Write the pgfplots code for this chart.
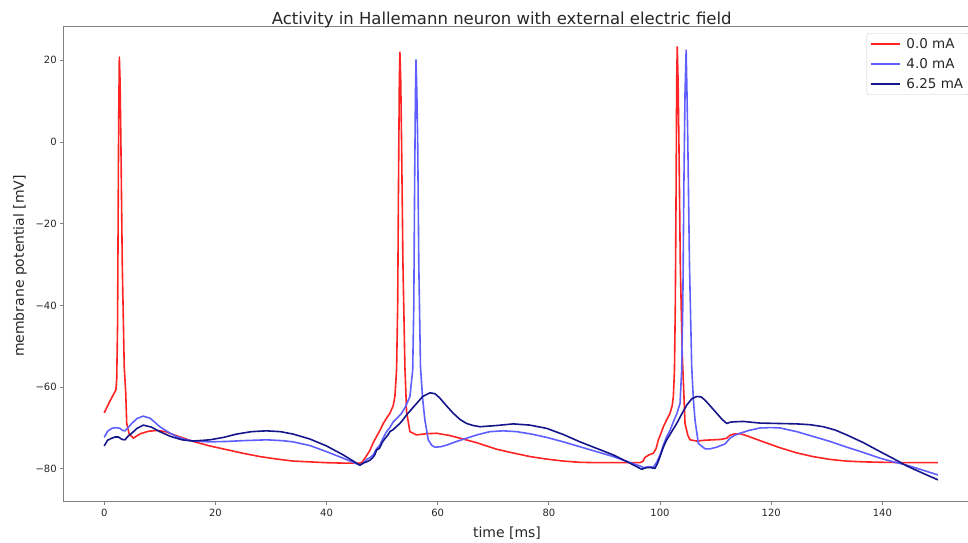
\documentclass[border=0pt]{standalone}
\usepackage{fontspec}
\setmainfont{DejaVu Sans}
\usepackage{pgfplots}
\pgfplotsset{compat=1.18}
\definecolor{cred}{RGB}{255,35,35}
\definecolor{cblue}{RGB}{95,95,255}
\definecolor{cnavy}{RGB}{22,22,140}
\definecolor{ctext}{RGB}{38,38,38}
\definecolor{cspine}{RGB}{128,128,128}
\begin{document}
\begin{tikzpicture}
\useasboundingbox (-63.7pt,-40.3pt) rectangle (904.3pt,501.7pt);
\clip (-63.7pt,-40.3pt) rectangle (904.3pt,501.7pt);
\begin{axis}[
  scale only axis,
  width=915.9pt, height=475pt,
  xmin=-7.29, xmax=157.5, ymin=-88.05, ymax=28.23,
  axis line style={cspine, line width=0.9pt},
  xtick={0,20,...,140},
  ytick={-80,-60,-40,-20,0,20},
  yticklabels={−80,−60,−40,−20,0,20},
  tick align=outside, tick pos=left,
  major tick length=3.5pt,
  every tick/.style={cspine, line width=0.8pt},
  /pgf/number format/assume math mode=true,
  tick label style={font=\fontsize{10}{12}\selectfont, text=ctext},
  legend style={at={(0.8767,0.9867)}, anchor=north west, draw=black!20, rounded corners=2pt,
    font=\fontsize{13.5}{15}\selectfont, text=ctext, inner xsep=3pt, inner ysep=3pt,
    row sep=4.5pt},
  legend cell align=left,
  legend image code/.code={\draw[#1] (0pt,0pt) -- (29pt,0pt); \path (33pt,0pt);},
  every axis plot/.append style={line width=1.6pt, line join=round},
]
% 0.0 mA
\addplot[cred] coordinates {
(0,-66.3) (1.0,-63.5) (2.1,-60.7) (2.25,-58) (2.4,-45) (2.5,-20) (2.6,5) (2.72,20.8)
(2.85,15) (3.0,0) (3.25,-30) (3.6,-55) (3.87,-61.3) (4.05,-68.9) (4.5,-71.5) (5.24,-72.5)
(6.5,-71.4) (8.0,-70.8) (9.5,-70.6) (11,-70.9) (13,-71.9) (16.0,-73.3) (19,-74.4) (22.0,-75.3)
(25,-76.2) (28.0,-77.0) (31,-77.6) (34.0,-78.1) (37,-78.3) (40.0,-78.5) (43,-78.6) (46.0,-78.6)
(46.4,-78.4) (47.1,-77.0) (47.8,-75.5) (48.4,-73.6) (49.0,-72.1) (49.6,-70.6) (50.2,-68.9) (50.8,-67.6)
(51.4,-66.4) (52.0,-64.5) (52.3,-62.3) (52.6,-55.8) (52.8,-40) (52.95,-10) (53.1,15) (53.2,22.0)
(53.35,15) (53.5,0) (53.75,-30) (54.1,-55) (54.4,-66) (55.0,-70.9) (56.2,-71.7) (58,-71.4)
(59.8,-71.3) (62,-71.8) (64.0,-72.5) (67,-73.6) (70.6,-75.2) (73.5,-76.1) (76.6,-77.0) (79.5,-77.6)
(82.6,-78.1) (85.5,-78.4) (88.6,-78.5) (92,-78.5) (96.4,-78.5) (96.9,-78.2) (97.3,-77.2) (98.0,-76.6)
(98.8,-76.2) (99.3,-75.0) (99.7,-72.9) (100.2,-71.2) (100.6,-69.7) (101.2,-68.0) (101.8,-66.4) (102.2,-64.5)
(102.4,-62.3) (102.6,-55.8) (102.75,-40) (102.9,-10) (103.0,15) (103.1,23.3) (103.25,15) (103.4,0)
(103.65,-30) (104.0,-52) (104.3,-62) (104.5,-68.9) (105.0,-71.8) (105.4,-72.9) (106.6,-73.2) (108,-73.0)
(109.6,-72.9) (111,-72.8) (112.0,-72.5) (112.6,-71.8) (113.2,-71.5) (114.4,-71.4) (115.6,-71.9) (117,-72.6)
(118.6,-73.4) (121.5,-74.8) (124.6,-76.1) (127.5,-77.0) (130.6,-77.7) (133.5,-78.1) (136.6,-78.3) (140,-78.4)
(145,-78.5) (150,-78.5)
};
\addlegendentry{0.0 mA}
% 4.0 mA
\addplot[cblue] coordinates {
(0,-72.3) (0.6,-70.8) (1.35,-70.1) (2.1,-69.9) (2.84,-70.1) (3.3,-70.6) (3.74,-70.7) (4.3,-69.9)
(4.95,-68.9) (5.9,-67.7) (7.0,-67.1) (8.24,-67.6) (9.1,-68.6) (10.0,-69.7) (11.5,-71.0) (13.0,-72.1)
(14.5,-72.8) (16.0,-73.2) (19.0,-73.4) (22,-73.3) (25.0,-73.1) (29.2,-72.9) (32,-73.1) (34.0,-73.4)
(37,-74.3) (40.0,-75.8) (43,-77.4) (46.0,-79.1) (46.6,-78.6) (47.3,-77.6) (47.8,-77.3) (48.4,-76.6)
(49.0,-75.1) (49.6,-74.2) (50.2,-72.4) (50.8,-70.9) (51.4,-69.9) (52.0,-68.5) (52.7,-67.6) (53.5,-66.4)
(54.2,-64.8) (55.0,-62.3) (55.5,-55.8) (55.7,-40) (55.85,-10) (56.0,12) (56.1,20.1) (56.25,12)
(56.4,0) (56.6,-30) (56.9,-55) (57.3,-63) (57.7,-68.1) (58.3,-72.9) (58.9,-74.2) (59.5,-74.7)
(60.5,-74.6) (61.6,-74.2) (63.4,-73.3) (65.2,-72.5) (67.3,-71.6) (69.4,-70.9) (71.8,-70.7) (74.2,-70.9)
(76.9,-71.5) (79.6,-72.3) (82.6,-73.4) (85.6,-74.6) (88.6,-75.8) (91.6,-77.0) (94,-78.2) (96.4,-79.3)
(97.0,-79.7) (98.0,-79.5) (98.8,-79.6) (99.4,-78.4) (100.0,-76.6) (100.6,-74.2) (101.2,-72.1) (101.8,-70.6)
(102.4,-68.5) (103.0,-66.6) (103.6,-64.0) (103.9,-55.8) (104.1,-40) (104.3,-10) (104.5,12) (104.7,22.5)
(104.85,12) (105.0,0) (105.3,-30) (105.7,-55) (106.0,-63) (106.3,-68.1) (106.9,-73.8) (108.1,-75.1)
(109.0,-75.1) (110.2,-74.7) (111.7,-73.9) (112.6,-72.5) (113.4,-71.8) (114.4,-71.3) (116,-70.6) (118.0,-70.0)
(120,-69.9) (121.6,-70.0) (124.6,-70.9) (127.6,-72.1) (130.6,-73.3) (133.6,-74.7) (136.6,-76.0) (139.6,-77.4)
(142,-78.3) (144.4,-79.1) (147,-80.2) (150,-81.5)
};
\addlegendentry{4.0 mA}
% 6.25 mA
\addplot[cnavy] coordinates {
(0,-74.4) (0.6,-73.0) (1.35,-72.5) (2.0,-72.2) (2.54,-72.2) (3.2,-72.8) (3.74,-72.9) (4.3,-72.0)
(4.95,-71.3) (5.9,-70.1) (7.03,-69.3) (8.5,-69.8) (10.0,-70.9) (12,-72.1) (14,-72.9) (16.0,-73.2)
(19.0,-72.9) (21.5,-72.3) (23.8,-71.5) (26.5,-70.9) (29.2,-70.7) (31.7,-70.9) (34.0,-71.5) (37,-72.7)
(40.0,-74.4) (43,-76.6) (46.0,-79.1) (46.6,-78.6) (47.2,-78.3) (47.8,-77.9) (48.3,-77.3) (48.7,-76.5)
(49.0,-75.4) (49.5,-75.0) (50.0,-73.6) (50.5,-72.6) (51.0,-71.8) (51.4,-70.9) (52.0,-70.4) (52.6,-69.6)
(53.2,-68.9) (53.8,-67.9) (54.4,-66.8) (55.3,-65.4) (56.2,-64.0) (57.3,-62.3) (58.6,-61.4) (59.5,-61.6)
(60.4,-62.7) (61.6,-64.6) (62.8,-66.4) (64.0,-67.9) (65.2,-68.9) (66.4,-69.4) (67.6,-69.7) (70.6,-69.4)
(73.6,-69.0) (76.6,-69.3) (79.6,-70.1) (82.6,-71.6) (85.6,-73.4) (88.6,-75.0) (91.6,-76.6) (94,-78.2)
(96.4,-79.9) (96.7,-80.1) (97.6,-79.7) (98.3,-79.7) (99.1,-79.9) (99.6,-78.5) (100.0,-77.0) (100.6,-74.7)
(101.2,-72.9) (102.1,-70.9) (103.0,-68.9) (103.9,-66.6) (104.8,-64.4) (105.7,-62.9) (106.6,-62.3) (107.4,-62.4)
(108.1,-63.2) (109.1,-64.7) (110.2,-66.4) (111.1,-67.8) (112.0,-68.9) (112.6,-68.6) (113.2,-68.5) (115,-68.4)
(118.0,-68.8) (121.3,-68.9) (124.6,-69.0) (127,-69.2) (129.4,-69.7) (131.5,-70.5) (133.6,-71.7) (136.6,-73.6)
(139.6,-75.8) (142,-77.5) (144.4,-79.3) (147,-80.9) (150,-82.7)
};
\addlegendentry{6.25 mA}
\end{axis}
\node[anchor=base, font=\fontsize{16.5}{19}\selectfont, text=ctext] at (438pt,476.7pt) {Activity in Hallemann neuron with external electric field};
\node[anchor=base, font=\fontsize{14}{16}\selectfont, text=ctext] at (443.3pt,-35.3pt) {time [ms]};
\node[anchor=base, rotate=90, font=\fontsize{14}{16}\selectfont, text=ctext] at (-39.7pt,235.7pt) {membrane potential [mV]};
\end{tikzpicture}
\end{document}
